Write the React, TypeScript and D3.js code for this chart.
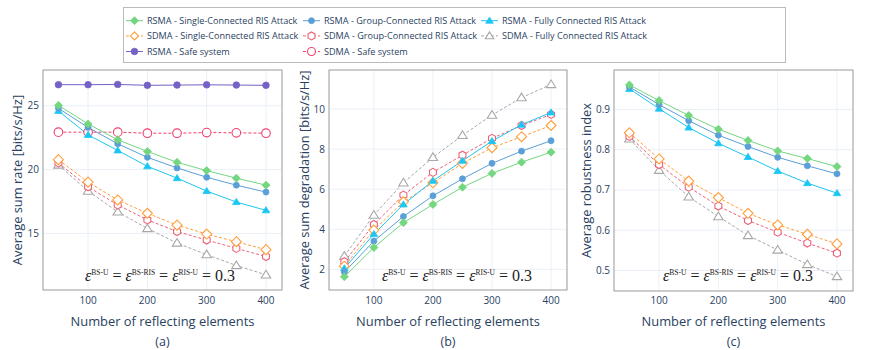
import React from 'react';
import * as d3 from 'd3';

// number of reflecting elements
const elements = [50, 100, 150, 200, 250, 300, 350, 400];

// (a) average sum rate
const aRsmaSingle = [25.03, 23.58, 22.33, 21.42, 20.57, 19.92, 19.33, 18.78];
const aRsmaGroup = [24.8, 23.3, 22.02, 20.96, 20.13, 19.4, 18.78, 18.24];
const aRsmaFully = [24.6, 22.72, 21.5, 20.26, 19.33, 18.32, 17.46, 16.81];
const aSdmaSingle = [20.78, 19.02, 17.62, 16.58, 15.65, 14.95, 14.35, 13.73];
const aSdmaGroup = [20.52, 18.65, 17.23, 16.06, 15.15, 14.48, 13.83, 13.19];
const aSdmaFully = [20.36, 18.32, 16.69, 15.39, 14.25, 13.34, 12.49, 11.76];
const aRsmaSafe = [26.65, 26.65, 26.67, 26.6, 26.62, 26.64, 26.62, 26.6];
const aSdmaSafe = [22.93, 22.93, 22.93, 22.85, 22.85, 22.9, 22.88, 22.85];

// (b) average sum degradation
const bRsmaSingle = [1.63, 3.09, 4.33, 5.24, 6.1, 6.79, 7.35, 7.85];
const bRsmaGroup = [1.86, 3.41, 4.64, 5.67, 6.52, 7.29, 7.9, 8.42];
const bRsmaFully = [2.05, 3.76, 5.24, 6.42, 7.42, 8.4, 9.22, 9.83];
const bSdmaSingle = [2.16, 3.96, 5.37, 6.32, 7.29, 8.07, 8.62, 9.18];
const bSdmaGroup = [2.38, 4.24, 5.71, 6.84, 7.7, 8.54, 9.18, 9.73];
const bSdmaFully = [2.66, 4.71, 6.32, 7.59, 8.69, 9.7, 10.57, 11.23];

// (c) average robustness index
const cRsmaSingle = [0.961, 0.922, 0.885, 0.851, 0.823, 0.797, 0.778, 0.758];
const cRsmaGroup = [0.956, 0.912, 0.872, 0.836, 0.808, 0.781, 0.76, 0.74];
const cRsmaFully = [0.951, 0.902, 0.855, 0.816, 0.782, 0.747, 0.717, 0.692];
const cSdmaSingle = [0.842, 0.777, 0.722, 0.681, 0.642, 0.613, 0.59, 0.566];
const cSdmaGroup = [0.833, 0.763, 0.707, 0.66, 0.624, 0.595, 0.568, 0.543];
const cSdmaFully = [0.827, 0.749, 0.683, 0.634, 0.587, 0.551, 0.515, 0.485];

const xTicks = [100, 200, 300, 400];
const aTicks = [15, 20, 25];
const bTicks = [2, 4, 6, 8, 10];
const cTicks = [0.5, 0.6, 0.7, 0.8, 0.9];

type Style = { name: string; color: string; dash: boolean; marker: string; size: number };

const styles: Record<string, Style> = {
  rsmaSingle: { name: 'RSMA - Single-Connected RIS Attack', color: '#74d67e', dash: false, marker: 'diamond', size: 4 },
  rsmaGroup: { name: 'RSMA - Group-Connected RIS Attack', color: '#5a9fd8', dash: false, marker: 'circle', size: 3 },
  rsmaFully: { name: 'RSMA - Fully Connected RIS Attack', color: '#1cc6f2', dash: false, marker: 'triangle', size: 3.6 },
  sdmaSingle: { name: 'SDMA - Single-Connected RIS Attack', color: '#ff9e3a', dash: true, marker: 'diamond-open', size: 5 },
  sdmaGroup: { name: 'SDMA - Group-Connected RIS Attack', color: '#ec6478', dash: true, marker: 'hexagon-open', size: 4 },
  sdmaFully: { name: 'SDMA - Fully Connected RIS Attack', color: '#a8a8a8', dash: true, marker: 'triangle-open', size: 4.5 },
  rsmaSafe: { name: 'RSMA - Safe system', color: '#7662c6', dash: false, marker: 'circle', size: 3.3 },
  sdmaSafe: { name: 'SDMA - Safe system', color: '#f2406a', dash: true, marker: 'circle-open', size: 4.3 },
};

const legendOrder = ['rsmaSingle', 'rsmaGroup', 'rsmaFully', 'sdmaSingle', 'sdmaGroup', 'sdmaFully', 'rsmaSafe', 'sdmaSafe'];

const FONT = '"Open Sans", verdana, arial, sans-serif';
const TXT = '#2a3f5f';

const Marker = ({ type, x, y, r, color }: { type: string; x: number; y: number; r: number; color: string }) => {
  const open = type.endsWith('-open');
  const fill = open ? 'white' : color;
  const sw = open ? 1.1 : 0.8;
  if (type.startsWith('circle')) return <circle cx={x} cy={y} r={r} fill={fill} stroke={color} strokeWidth={sw} />;
  let pts: [number, number][] = [];
  if (type.startsWith('diamond')) pts = [[0, -r], [r, 0], [0, r], [-r, 0]];
  if (type.startsWith('triangle')) pts = [[0, -r], [r * 1.05, r * 0.7], [-r * 1.05, r * 0.7]];
  if (type.startsWith('hexagon')) pts = d3.range(6).map(i => [r * Math.cos(Math.PI / 6 + i * Math.PI / 3), r * Math.sin(Math.PI / 6 + i * Math.PI / 3)] as [number, number]);
  return <polygon points={pts.map(p => `${x + p[0]},${y + p[1]}`).join(' ')} fill={fill} stroke={color} strokeWidth={sw} />;
};

const Annotation = ({ x, y }: { x: number; y: number }) => {
  const sup = { fontSize: 7.5, baselineShift: '6px' } as any;
  return (
    <text x={x} y={y} fontFamily='"Liberation Serif", "DejaVu Serif", serif' fontSize={16} fill="#222">
      <tspan fontStyle="italic">ε</tspan>
      <tspan style={sup}>BS-U</tspan>
      <tspan> = </tspan>
      <tspan fontStyle="italic">ε</tspan>
      <tspan style={sup}>BS-RIS</tspan>
      <tspan> = </tspan>
      <tspan fontStyle="italic">ε</tspan>
      <tspan style={sup}>RIS-U</tspan>
      <tspan> = 0.3</tspan>
    </text>
  );
};

type PanelProps = {
  left: number; right: number; top: number; bottom: number;
  yDomain: [number, number]; yTicks: number[]; yFormat: (v: number) => string;
  yTitle: string; yTitleX: number; label: string; annX: number;
  series: { key: string; values: number[] }[];
};

const Panel = ({ left, right, top, bottom, yDomain, yTicks, yFormat, yTitle, yTitleX, label, annX, series }: PanelProps) => {
  const x = d3.scaleLinear().domain([24, 427]).range([left, right]);
  const y = d3.scaleLinear().domain(yDomain).range([bottom, top]);
  const line = d3.line<number>().x((_, i) => x(elements[i])).y(d => y(d));
  const cx = (left + right) / 2;
  const cy = (top + bottom) / 2;
  return (
    <g>
      {xTicks.map(t => (
        <line key={'gx' + t} x1={x(t)} x2={x(t)} y1={top} y2={bottom} stroke="#ebf0f8" strokeWidth={1} />
      ))}
      {yTicks.map(t => (
        <line key={'gy' + t} x1={left} x2={right} y1={y(t)} y2={y(t)} stroke="#ebf0f8" strokeWidth={1} />
      ))}
      {series.map(s => {
        const st = styles[s.key];
        return (
          <path key={'l' + s.key} d={line(s.values) || ''} fill="none" stroke={st.color} strokeWidth={1}
            strokeDasharray={st.dash ? '3,2' : undefined} />
        );
      })}
      {series.map(s => {
        const st = styles[s.key];
        return s.values.map((v, i) => (
          <Marker key={'m' + s.key + i} type={st.marker} x={x(elements[i])} y={y(v)} r={st.size} color={st.color} />
        ));
      })}
      <rect x={left} y={top} width={right - left} height={bottom - top} fill="none" stroke="#999" strokeWidth={1} />
      {xTicks.map(t => (
        <text key={'tx' + t} x={x(t)} y={303.5} textAnchor="middle" fontFamily={FONT} fontSize={10} fill={TXT}>{t}</text>
      ))}
      {yTicks.map(t => (
        <text key={'ty' + t} x={left - 4} y={y(t) + 3.5} textAnchor="end" fontFamily={FONT} fontSize={10} fill={TXT}>{yFormat(t)}</text>
      ))}
      <text x={cx} y={326} textAnchor="middle" fontFamily={FONT} fontSize={12.9} fill={TXT}>Number of reflecting elements</text>
      <text x={cx} y={346} textAnchor="middle" fontFamily={FONT} fontSize={12.5} fill={TXT}>{label}</text>
      <text transform={`translate(${yTitleX},${cy}) rotate(-90)`} textAnchor="middle" fontFamily={FONT} fontSize={12.9} fill={TXT}>{yTitle}</text>
      <Annotation x={annX} y={281} />
    </g>
  );
};

const Legend = () => {
  const colX = [126, 303, 481];
  const rowY = [20.7, 35.9, 51.5];
  return (
    <g>
      <rect x={123.5} y={7.5} width={662} height={55} fill="white" stroke="#bbb" strokeWidth={1} />
      {legendOrder.map((k, i) => {
        const st = styles[k];
        const lx = colX[i % 3];
        const ly = rowY[Math.floor(i / 3)];
        return (
          <g key={k}>
            <line x1={lx} x2={lx + 17} y1={ly} y2={ly} stroke={st.color} strokeWidth={1} strokeDasharray={st.dash ? '3,2' : undefined} />
            <Marker type={st.marker} x={lx + 8.5} y={ly} r={Math.min(st.size, 4)} color={st.color} />
            <text x={lx + 21} y={ly + 3.5} fontFamily={FONT} fontSize={9.1} fill={TXT}>{st.name}</text>
          </g>
        );
      })}
    </g>
  );
};

const App = () => {
  const keys = ['rsmaSafe', 'sdmaSafe', 'sdmaFully', 'sdmaGroup', 'sdmaSingle', 'rsmaFully', 'rsmaGroup', 'rsmaSingle'];
  const aVals: Record<string, number[]> = { rsmaSingle: aRsmaSingle, rsmaGroup: aRsmaGroup, rsmaFully: aRsmaFully, sdmaSingle: aSdmaSingle, sdmaGroup: aSdmaGroup, sdmaFully: aSdmaFully, rsmaSafe: aRsmaSafe, sdmaSafe: aSdmaSafe };
  const bVals: Record<string, number[]> = { rsmaSingle: bRsmaSingle, rsmaGroup: bRsmaGroup, rsmaFully: bRsmaFully, sdmaSingle: bSdmaSingle, sdmaGroup: bSdmaGroup, sdmaFully: bSdmaFully };
  const cVals: Record<string, number[]> = { rsmaSingle: cRsmaSingle, rsmaGroup: cRsmaGroup, rsmaFully: cRsmaFully, sdmaSingle: cSdmaSingle, sdmaGroup: cSdmaGroup, sdmaFully: cSdmaFully };
  const toSeries = (m: Record<string, number[]>) => keys.filter(k => m[k]).map(k => ({ key: k, values: m[k] }));
  return (
    <svg width={874} height={350} style={{ position: 'absolute', left: 0, top: 0, background: 'white' }}>
      <Panel left={43} right={282} top={70} bottom={290} yDomain={[10.57, 27.8]} yTicks={aTicks} yFormat={d => String(d)}
        yTitle="Average sum rate [bits/s/Hz]" yTitleX={22} label="(a)" annX={85} series={toSeries(aVals)} />
      <Panel left={329} right={567} top={70} bottom={290} yDomain={[0.97, 11.95]} yTicks={bTicks} yFormat={d => String(d)}
        yTitle="Average sum degradation [bits/s/Hz]" yTitleX={309} label="(b)" annX={382} series={toSeries(bVals)} />
      <Panel left={614} right={853} top={70} bottom={291} yDomain={[0.449, 0.998]} yTicks={cTicks} yFormat={d => d.toFixed(1)}
        yTitle="Average robustness index" yTitleX={591} label="(c)" annX={663} series={toSeries(cVals)} />
      <Legend />
    </svg>
  );
};

export default App;
